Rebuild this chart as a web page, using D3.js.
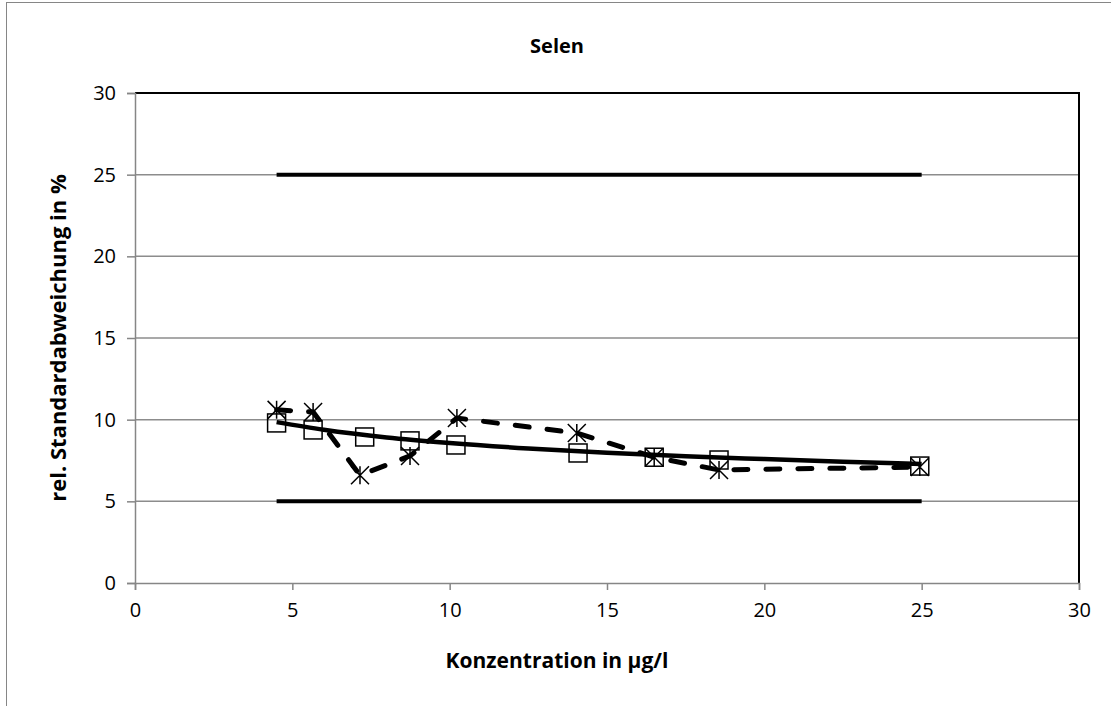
<!DOCTYPE html>
<html><head><meta charset="utf-8">
<script src="https://cdn.jsdelivr.net/npm/d3@7"></script>
<style>body{margin:0;background:#fff}svg{display:block}</style>
</head><body>
<svg id="c" width="1111" height="706"></svg>
<script>
const title = "Selen";
const xTitle = "Konzentration in µg/l";
const yTitle = "rel. Standardabweichung in %";
const xTicks = [0, 5, 10, 15, 20, 25, 30];
const yTicks = [0, 5, 10, 15, 20, 25, 30];
// Squares series (markers only)
const sqX = [4.5, 5.66, 7.3, 8.74, 10.2, 14.08, 16.5, 18.56, 24.94];
const sqY = [9.8, 9.37, 8.94, 8.7, 8.45, 7.96, 7.7, 7.53, 7.16];
// Star series (dashed line)
const stX = [4.5, 5.66, 7.15, 8.74, 10.23, 14.04, 16.5, 18.56, 24.94];
const stY = [10.6, 10.47, 6.6, 7.78, 10.1, 9.18, 7.7, 6.92, 7.1];
// Trend curve
const fitX = [4.5, 6, 8, 10, 12.5, 15, 17.5, 20, 22.5, 25];
const fitY = [9.85, 9.38, 8.91, 8.57, 8.24, 7.98, 7.76, 7.59, 7.43, 7.29];
// Limit lines
const limX = [4.5, 25];
const upperLim = [25, 25];
const lowerLim = [5, 5];

const svg = d3.select("#c");
const font = "'Open Sans', 'Noto Sans', sans-serif";
// outer frame
svg.append("rect").attr("x", 6.5).attr("y", 2.5).attr("width", 1200).attr("height", 800)
  .attr("fill", "none").attr("stroke", "#868686").attr("stroke-width", 1);

const L = 135, R = 1079, T = 93, B = 583;
const x = d3.scaleLinear().domain([0, 30]).range([L, R]);
const y = d3.scaleLinear().domain([0, 30]).range([B, T]);

// gridlines
svg.append("g").selectAll("line").data(yTicks.filter(d => d > 0 && d < 30)).join("line")
  .attr("x1", L).attr("x2", R).attr("y1", d => y(d)).attr("y2", d => y(d))
  .attr("stroke", "#8c8c8c").attr("stroke-width", 1.5);

// plot border top/right black
svg.append("path").attr("d", `M${L},${T}H${R}V${B}`).attr("fill", "none")
  .attr("stroke", "#000").attr("stroke-width", 2);

// axes
const xa = svg.append("g").attr("transform", `translate(0,${B})`)
  .call(d3.axisBottom(x).tickValues(xTicks).tickSize(7).tickPadding(13).tickFormat(d3.format("d")));
const ya = svg.append("g").attr("transform", `translate(${L},0)`)
  .call(d3.axisLeft(y).tickValues(yTicks).tickSize(8).tickPadding(11).tickFormat(d3.format("d")));
[xa, ya].forEach(a => {
  a.select(".domain").attr("stroke", "#868686").attr("stroke-width", 1.5);
  a.selectAll(".tick line").attr("stroke", "#868686").attr("stroke-width", 1.5);
  a.selectAll("text").attr("font-family", font).attr("font-size", 20).attr("fill", "#000");
});

// limit lines
const line = d3.line().x(d => x(d[0])).y(d => y(d[1]));
[upperLim, lowerLim].forEach(arr => {
  svg.append("path").attr("d", line(limX.map((v, i) => [v, arr[i]])))
    .attr("stroke", "#000").attr("stroke-width", 4).attr("fill", "none");
});

// trend curve
svg.append("path").attr("d", d3.line().x(d => x(d[0])).y(d => y(d[1])).curve(d3.curveMonotoneX)(fitX.map((v, i) => [v, fitY[i]])))
  .attr("stroke", "#000").attr("stroke-width", 4.5).attr("fill", "none");

// dashed star line
svg.append("path").attr("d", line(stX.map((v, i) => [v, stY[i]])))
  .attr("stroke", "#000").attr("stroke-width", 5).attr("fill", "none")
  .attr("stroke-dasharray", "14,18").attr("stroke-linecap", "round");

// square markers
svg.append("g").selectAll("rect").data(sqX.map((v, i) => [v, sqY[i]])).join("rect")
  .attr("x", d => x(d[0]) - 9).attr("y", d => y(d[1]) - 9).attr("width", 18).attr("height", 18)
  .attr("fill", "none").attr("stroke", "#000").attr("stroke-width", 1.5);

// star markers
const s = 9;
svg.append("g").selectAll("path").data(stX.map((v, i) => [v, stY[i]])).join("path")
  .attr("d", d => {
    const cx = x(d[0]), cy = y(d[1]);
    return `M${cx - s},${cy - s}L${cx + s},${cy + s}M${cx - s},${cy + s}L${cx + s},${cy - s}M${cx},${cy - s}L${cx},${cy + s}`;
  })
  .attr("stroke", "#000").attr("stroke-width", 1.5).attr("fill", "none");

// titles
svg.append("text").attr("x", 557).attr("y", 53).attr("text-anchor", "middle")
  .attr("font-family", font).attr("font-weight", "bold").attr("font-size", 20).text(title);
svg.append("text").attr("x", 557).attr("y", 668).attr("text-anchor", "middle")
  .attr("font-family", font).attr("font-weight", "bold").attr("font-size", 21).text(xTitle);
svg.append("text").attr("transform", "translate(66,338) rotate(-90)").attr("text-anchor", "middle")
  .attr("font-family", font).attr("font-weight", "bold").attr("font-size", 22).text(yTitle);
</script>
</body></html>
